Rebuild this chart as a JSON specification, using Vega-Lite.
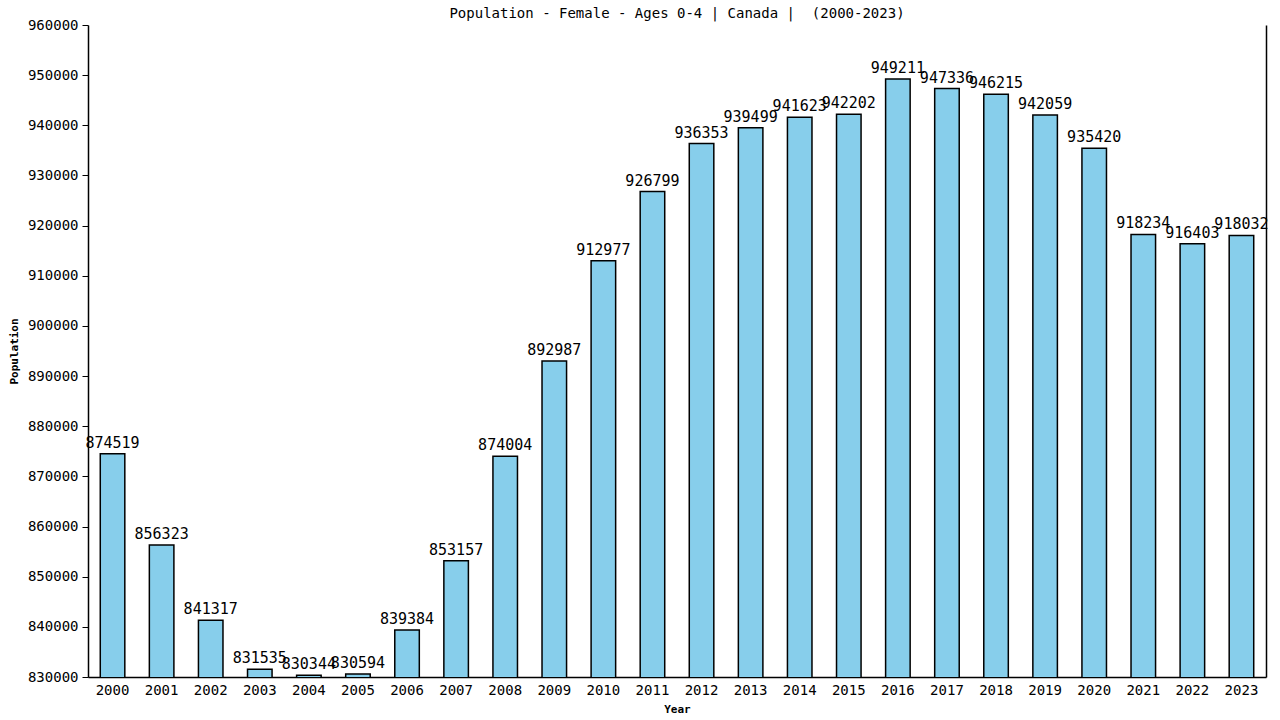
{
  "$schema": "https://vega.github.io/schema/vega-lite/v6.json",
  "width": 1178,
  "height": 652,
  "padding": {"left": 88, "top": 25, "right": 14, "bottom": 43},
  "autosize": {"type": "none"},
  "background": "white",
  "title": {
    "text": "Population - Female - Ages 0-4 | Canada | \u00a0(2000-2023)",
    "font": "DejaVu Sans Mono",
    "fontSize": 14,
    "fontWeight": "normal",
    "color": "black",
    "anchor": "middle",
    "offset": -3
  },
  "config": {
    "view": {"stroke": null},
    "font": "DejaVu Sans Mono"
  },
  "data": {
    "values": [
      {"Year": "2000", "Population": 874519},
      {"Year": "2001", "Population": 856323},
      {"Year": "2002", "Population": 841317},
      {"Year": "2003", "Population": 831535},
      {"Year": "2004", "Population": 830344},
      {"Year": "2005", "Population": 830594},
      {"Year": "2006", "Population": 839384},
      {"Year": "2007", "Population": 853157},
      {"Year": "2008", "Population": 874004},
      {"Year": "2009", "Population": 892987},
      {"Year": "2010", "Population": 912977},
      {"Year": "2011", "Population": 926799},
      {"Year": "2012", "Population": 936353},
      {"Year": "2013", "Population": 939499},
      {"Year": "2014", "Population": 941623},
      {"Year": "2015", "Population": 942202},
      {"Year": "2016", "Population": 949211},
      {"Year": "2017", "Population": 947336},
      {"Year": "2018", "Population": 946215},
      {"Year": "2019", "Population": 942059},
      {"Year": "2020", "Population": 935420},
      {"Year": "2021", "Population": 918234},
      {"Year": "2022", "Population": 916403},
      {"Year": "2023", "Population": 918032}
    ]
  },
  "encoding": {
    "x": {
      "field": "Year",
      "type": "ordinal",
      "scale": {"paddingInner": 0.5, "paddingOuter": 0.25},
      "axis": {
        "title": "Year",
        "titleFont": "DejaVu Sans Mono",
        "titleFontSize": 11,
        "titleFontWeight": "bold",
        "titleColor": "black",
        "titlePadding": 6,
        "labelAngle": 0,
        "labelFont": "DejaVu Sans Mono",
        "labelFontSize": 14,
        "labelColor": "black",
        "labelPadding": 6,
        "ticks": false,
        "domainColor": "black",
        "domainOpacity": 1,
        "domainWidth": 1.5
      }
    }
  },
  "layer": [
    {
      "mark": {"type": "bar", "color": "#87CEEB", "stroke": "black", "strokeWidth": 1.5, "clip": true},
      "encoding": {
        "y": {
          "field": "Population",
          "type": "quantitative",
          "scale": {"domain": [830000, 960000], "zero": false, "nice": false},
          "axis": {
            "title": "Population",
            "titleFont": "DejaVu Sans Mono",
            "titleFontSize": 11,
            "titleFontWeight": "bold",
            "titleColor": "black",
            "titlePadding": 8,
            "values": [830000, 840000, 850000, 860000, 870000, 880000, 890000, 900000, 910000, 920000, 930000, 940000, 950000, 960000],
            "format": "d",
            "grid": false,
            "labelFont": "DejaVu Sans Mono",
            "labelFontSize": 14,
            "labelColor": "black",
            "labelPadding": 4,
            "tickSize": 6,
            "tickColor": "black",
            "domainColor": "black",
            "domainWidth": 1.5
          }
        }
      }
    },
    {
      "mark": {"type": "text", "baseline": "bottom", "dy": -3, "font": "DejaVu Sans Mono", "fontSize": 15, "color": "black"},
      "encoding": {
        "y": {"field": "Population", "type": "quantitative", "axis": null},
        "text": {"field": "Population", "type": "quantitative", "format": "d"}
      }
    },
    {
      "mark": {"type": "tick", "opacity": 0},
      "encoding": {
        "y": {
          "field": "Population",
          "type": "quantitative",
          "axis": {"orient": "right", "title": null, "labels": false, "ticks": false, "grid": false, "domainColor": "black", "domainWidth": 1.5}
        }
      }
    }
  ],
  "resolve": {"axis": {"y": "independent"}}
}
